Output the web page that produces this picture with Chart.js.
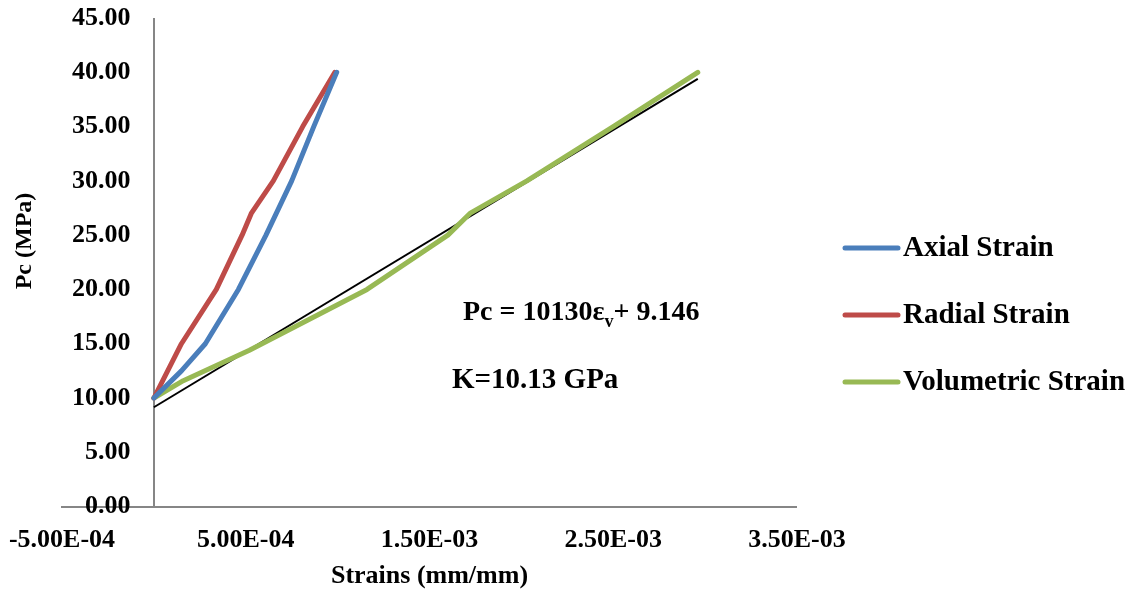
<!DOCTYPE html>
<html><head><meta charset="utf-8">
<script src="https://cdn.jsdelivr.net/npm/chart.js@4.4.1/dist/chart.umd.min.js"></script>
<style>html,body{margin:0;padding:0;background:#fff;overflow:hidden}#wrap{width:1139px;height:593px;position:relative}</style>
</head><body><div id="wrap"><canvas id="c"></canvas></div>
<script>
// ---- data ----
const axialX  = [0, 1.5e-4, 2.8e-4, 4.6e-4, 6.1e-4, 7.5e-4, 8.7e-4, 9.95e-4];
const axialY  = [10, 12.5, 15, 20, 25, 30, 35, 40];
const radialX = [0, 1.5e-4, 3.4e-4, 4.8e-4, 5.3e-4, 6.5e-4, 8.1e-4, 9.85e-4];
const radialY = [10, 15, 20, 25, 27, 30, 35, 40];
const volX    = [0, 1.6e-4, 5.2e-4, 1.16e-3, 1.6e-3, 1.72e-3, 2.03e-3, 2.5e-3, 2.96e-3];
const volY    = [10, 11.6, 14.4, 20, 25, 27, 30, 35, 40];
const fitX    = [0, 2.96e-3];
const fitY    = [9.15, 39.4];
const seriesNames = ['Axial Strain', 'Radial Strain', 'Volumetric Strain'];
const xTickValues = [-5e-4, 5e-4, 1.5e-3, 2.5e-3, 3.5e-3];
const xTickLabels = ['-5.00E-04', '5.00E-04', '1.50E-03', '2.50E-03', '3.50E-03'];
const yTickLabels = ['0.00','5.00','10.00','15.00','20.00','25.00','30.00','35.00','40.00','45.00'];
const xTitle = 'Strains (mm/mm)';
const yTitle = 'Pc (MPa)';
const eqMain = 'Pc = 10130\u03b5', eqSub = 'v', eqTail = '+ 9.146';
const kText = 'K=10.13 GPa';

const FONT = '"Liberation Serif", "Times New Roman", serif';
const zip = (xs, ys) => xs.map((x, i) => ({x, y: ys[i]}));

const overlay = {
  id: 'overlay',
  afterDraw(chart) {
    const ctx = chart.ctx;
    ctx.save();
    // y-axis title
    ctx.fillStyle = '#000';
    ctx.font = 'bold 24px ' + FONT;
    ctx.textAlign = 'center'; ctx.textBaseline = 'middle';
    ctx.translate(25, 241); ctx.rotate(-Math.PI / 2);
    ctx.fillText(yTitle, 0, 0);
    ctx.setTransform(1, 0, 0, 1, 0, 0);
    // legend
    const ys = [248, 315, 382];
    chart.data.datasets.slice(0, 3).forEach((ds, i) => {
      ctx.strokeStyle = ds.borderColor; ctx.lineWidth = 5; ctx.lineCap = 'round';
      ctx.beginPath(); ctx.moveTo(845, ys[i]); ctx.lineTo(898, ys[i]); ctx.stroke();
      ctx.fillStyle = '#000'; ctx.font = 'bold 29px ' + FONT;
      ctx.textAlign = 'left'; ctx.textBaseline = 'middle';
      ctx.fillText(ds.label, 903, ys[i] + 1);
    });
    // equation annotation
    ctx.textBaseline = 'alphabetic'; ctx.textAlign = 'left';
    ctx.font = 'bold 28px ' + FONT;
    let x = 463;
    ctx.fillText(eqMain, x, 320); x += ctx.measureText(eqMain).width;
    ctx.font = 'bold 18px ' + FONT;
    ctx.fillText(eqSub, x, 327); x += ctx.measureText(eqSub).width;
    ctx.font = 'bold 28px ' + FONT;
    ctx.fillText(eqTail, x, 320);
    ctx.font = 'bold 29px ' + FONT;
    ctx.fillText(kText, 452, 388);
    ctx.restore();
  }
};

new Chart(document.getElementById('c'), {
  type: 'line',
  data: {
    datasets: [
      {label: seriesNames[0], data: zip(axialX, axialY), borderColor: '#4A7EBB', backgroundColor: '#4A7EBB'},
      {label: seriesNames[1], data: zip(radialX, radialY), borderColor: '#BE4B48', backgroundColor: '#BE4B48'},
      {label: seriesNames[2], data: zip(volX, volY), borderColor: '#98B954', backgroundColor: '#98B954'},
      {label: 'Linear fit', data: zip(fitX, fitY), borderColor: '#000000', backgroundColor: '#000000', borderWidth: 2, borderCapStyle: 'butt'}
    ]
  },
  options: {
    responsive: true, maintainAspectRatio: false, animation: false,
    layout: {padding: {left: 0, top: 18, right: 342, bottom: 0}},
    elements: {
      line: {tension: 0, borderWidth: 5, borderCapStyle: 'round', borderJoinStyle: 'round', fill: false},
      point: {radius: 0, hoverRadius: 0}
    },
    plugins: {legend: {display: false}, tooltip: {enabled: false}},
    scales: {
      x: {
        type: 'linear', min: -5e-4, max: 3.5e-3,
        afterBuildTicks: s => { s.ticks = [xTickValues[0], 0, ...xTickValues.slice(1)].map(v => ({value: v})); },
        afterFit: s => { s.paddingLeft = 0; s.paddingRight = 0; },
        ticks: {
          autoSkip: false, maxRotation: 0, padding: 18, color: '#000',
          font: {family: FONT, size: 26, weight: 'bold'},
          callback: v => { const i = xTickValues.indexOf(v); return i >= 0 ? xTickLabels[i] : ''; }
        },
        grid: {
          drawTicks: false, drawOnChartArea: true,
          color: c => (c.tick && c.tick.value === 0) ? '#868686' : 'rgba(0,0,0,0)',
          lineWidth: c => (c.tick && c.tick.value === 0) ? 2 : 0
        },
        border: {display: true, color: '#868686', width: 2},
        title: {display: true, text: xTitle, color: '#000', font: {family: FONT, size: 26, weight: 'bold'}, padding: {top: -13, bottom: 1}}
      },
      y: {
        type: 'linear', min: 0, max: 45,
        afterFit: s => { s.width = 62; s.paddingTop = 0; s.paddingBottom = 0; },
        ticks: {
          stepSize: 5, mirror: true, crossAlign: 'far', padding: 10, color: '#000',
          font: {family: FONT, size: 26, weight: 'bold'},
          callback: (v, i) => yTickLabels[i]
        },
        grid: {display: false, drawTicks: false},
        border: {display: false}
      }
    }
  },
  plugins: [overlay]
});
</script></body></html>
